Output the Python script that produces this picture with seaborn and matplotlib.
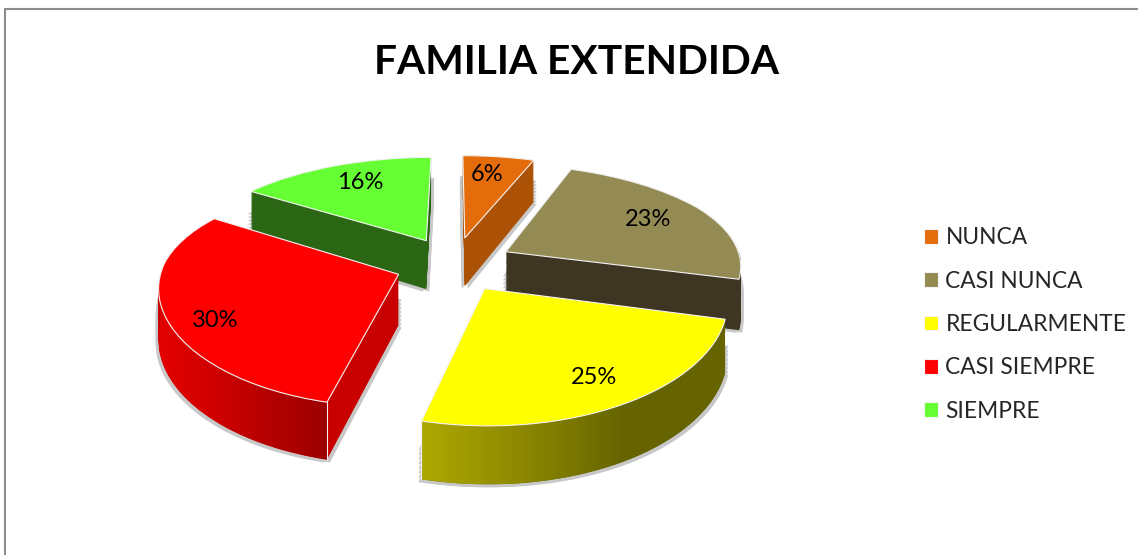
import numpy as np
import matplotlib
matplotlib.use("Agg")
import matplotlib.pyplot as plt
import seaborn as sns
from matplotlib.path import Path
from matplotlib.transforms import Transform

categories = ["NUNCA", "CASI NUNCA", "REGULARMENTE", "CASI SIEMPRE", "SIEMPRE"]
values = [6, 23, 25, 30, 16]

top_colors = ["#e46c0a", "#948a54", "#ffff00", "#ff0000", "#66ff33"]
side_colors = ["#ac5207", "#3e3622", "#666400", "#c80000", "#2b6614"]
rim_colors = [
    ["#ac5207", "#ac5207"],
    ["#3e3622", "#3e3622"],
    ["#aea900", "#8c8800", "#666400", "#666400"],
    ["#e40000", "#cf0000", "#b40000", "#9c0000"],
    ["#2b6614", "#2b6614"],
]
explode = [0.25] * 5
label_dist = [0.77, 0.72, 0.8, 0.82, 0.7]
label_shift = [(-5, 2), (2, 0), (1, -2), (6, 10), (1, -3)]
draw_order = [4, 0, 1, 3, 2]

sns.set_theme(style="white")
plt.rcParams["font.family"] = ["Lato", "DejaVu Sans"]


# pie plane -> picture pixels, with the tilt of the old excel 3d pie
class Tilt(Transform):
    input_dims = 2
    output_dims = 2

    def __init__(self, lift=0.0, dx=0.0):
        super().__init__()
        self.lift = lift
        self.dx = dx

    def transform_non_affine(self, xy):
        xy = np.asarray(xy, dtype=float)
        u, v = xy[:, 0], xy[:, 1]
        depth = 1 + 0.1 * v + 0.08 * np.clip(v, 0, None) ** 2
        px = 454 + 236 * u / depth + self.dx
        py = 264 - 229 * (0.482 * v - 0.082 * v ** 2) + self.lift * (50 - 7 * v)
        return np.column_stack([px, py])


fig = plt.figure(figsize=(11.38, 5.55), dpi=100)
ax = fig.add_axes([0, 0, 1, 1])


def pie_layer():
    wedges, _ = ax.pie(values, explode=explode, startangle=90, counterclock=False, colors=top_colors,
                       wedgeprops={"edgecolor": "none", "linewidth": 0})
    return wedges


# grey shadow under the slices
for dx in (-3, 3):
    for lift in np.linspace(0.5, 1.05, 8):
        for w in pie_layer():
            w.set_facecolor("#c8c8c8")
            w.set_transform(Tilt(lift, dx) + ax.transData)
            w.set_zorder(1)

# extruded body
for rank, i in enumerate(draw_order):
    for lift in np.linspace(1, 0, 45):
        w = pie_layer()
        for j, piece in enumerate(w):
            if j == i:
                piece.set_facecolor(side_colors[i])
                piece.set_transform(Tilt(lift) + ax.transData)
                piece.set_zorder(10 * rank + 10)
            else:
                piece.remove()

top = pie_layer()
for rank, i in enumerate(draw_order):
    w = top[i]
    w.set_transform(Tilt(0) + ax.transData)
    w.set_edgecolor("#f4f4f4")
    w.set_linewidth(0.8)
    w.set_zorder(10 * rank + 13)

    # front rim with gradient, clipped to the arc of this slice
    angles = np.radians(np.linspace(w.theta1, w.theta2, 200))
    angles = angles[np.sin(angles) < 0]
    if len(angles) > 1:
        arc = np.column_stack([w.center[0] + w.r * np.cos(angles), w.center[1] + w.r * np.sin(angles)])
        upper = Tilt(0).transform(arc)
        lower = Tilt(1).transform(arc)
        band = np.vstack([upper, lower[::-1], upper[:1]])
        cmap = sns.blend_palette(rim_colors[i], n_colors=256, as_cmap=True)
        im = ax.imshow(np.linspace(0, 1, 256)[None, :], cmap=cmap, aspect="auto", zorder=10 * rank + 11,
                       extent=(band[:, 0].min(), band[:, 0].max(), band[:, 1].max(), band[:, 1].min()))
        im.set_clip_path(Path(band), transform=ax.transData)

        # light line down the outer corner
        for a in (angles[0], angles[-1]):
            corner = np.array([[w.center[0] + w.r * np.cos(a), w.center[1] + w.r * np.sin(a)]])
            if abs(np.cos(a)) < 0.5:
                p0 = Tilt(0).transform(corner)[0]
                p1 = Tilt(1).transform(corner)[0]
                ax.plot([p0[0], p1[0]], [p0[1], p1[1]], color="#f0f0f0", lw=0.8, zorder=10 * rank + 12)

    mid = np.radians((w.theta1 + w.theta2) / 2)
    pos = np.array([[w.center[0] + label_dist[i] * np.cos(mid), w.center[1] + label_dist[i] * np.sin(mid)]])
    x, y = Tilt(0).transform(pos)[0]
    ax.text(x + label_shift[i][0], y + label_shift[i][1], f"{values[i]}%", ha="center", va="center",
            fontsize=17, color="black", zorder=200)

ax.set_aspect("auto")
ax.set_xlim(0, 1138)
ax.set_ylim(555, 0)
ax.axis("off")

# outer chart frame
ax.plot([5.5, 5.5, 1138], [555, 8.5, 8.5], color="#8c8c8c", lw=1.5, zorder=0)

ax.text(577, 62, "FAMILIA EXTENDIDA", ha="center", va="center", fontsize=29.3, fontweight="bold", color="black")

ax.legend(top, categories, loc="center left", bbox_to_anchor=(904, 324.5), bbox_transform=ax.transData,
          frameon=False, fontsize=16.4, labelspacing=0.98, handlelength=0.6, handleheight=0.6, handletextpad=0.32)

fig.savefig("out.png", dpi=100)
